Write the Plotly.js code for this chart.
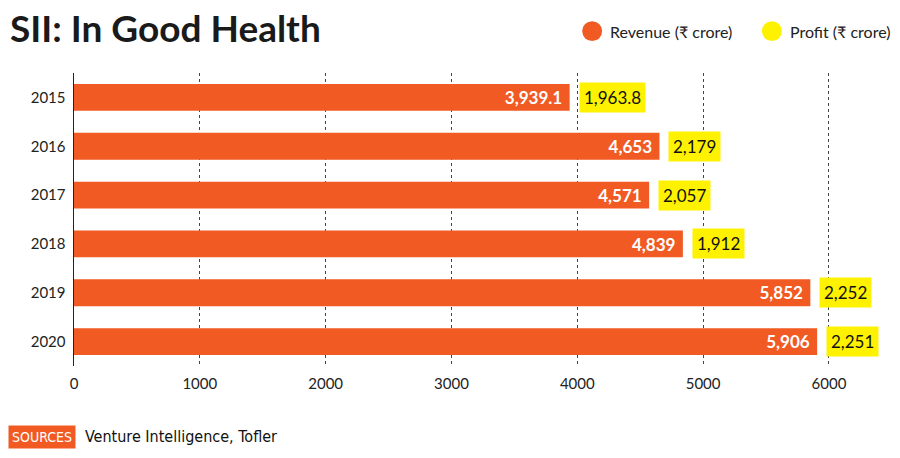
<!DOCTYPE html>
<html>
<head>
<meta charset="utf-8">
<script src="https://cdn.plot.ly/plotly-3.0.1.min.js"></script>
<style>html,body{margin:0;padding:0;background:#fff;}#chart{width:900px;height:458px;}</style>
</head>
<body>
<div id="chart"></div>
<script>
const years = ['2015', '2016', '2017', '2018', '2019', '2020'];
const revenue = [3939.1, 4653, 4571, 4839, 5852, 5906];
const profit = [1963.8, 2179, 2057, 1912, 2252, 2251];
const revenueLabels = ['3,939.1', '4,653', '4,571', '4,839', '5,852', '5,906'];
const profitLabels = ['1,963.8', '2,179', '2,057', '1,912', '2,252', '2,251'];
const xTicks = [0, 1000, 2000, 3000, 4000, 5000, 6000];

const ORANGE = '#F15A22';
const YELLOW = '#FFF200';
const FONT = 'Lato, "Open Sans", sans-serif';

const trace = {
  type: 'bar',
  orientation: 'h',
  y: years,
  x: revenue,
  text: revenueLabels,
  texttemplate: '<b>%{text}</b>\u00a0',
  textposition: 'inside',
  insidetextanchor: 'end',
  textangle: 0,
  textfont: {family: FONT, size: 18, color: '#fff'},
  marker: {color: ORANGE},
  width: 0.55,
  hoverinfo: 'skip',
  showlegend: false
};

const profitAnnotations = years.map((y, i) => ({
  x: revenue[i], y: i, xref: 'x', yref: 'y',
  text: profitLabels[i],
  showarrow: false, xanchor: 'left', yanchor: 'middle',
  xshift: 9,
  bgcolor: YELLOW, borderpad: 4,
  font: {family: FONT, size: 17, color: '#111'}
}));

const layout = {
  width: 900, height: 458,
  margin: {l: 74, r: 27, t: 73, b: 92},
  paper_bgcolor: '#fff', plot_bgcolor: '#fff',
  font: {family: FONT, color: '#222'},
  xaxis: {
    range: [0, 6350],
    tickvals: xTicks,
    ticktext: xTicks.map(String),
    showgrid: true, gridcolor: '#444', griddash: 'dot', gridwidth: 1,
    zeroline: false, showline: false,
    ticks: 'outside', ticklen: 4, tickcolor: 'rgba(0,0,0,0)',
    tickfont: {family: FONT, size: 15, color: '#222'},
    fixedrange: true
  },
  yaxis: {
    type: 'category',
    categoryorder: 'array',
    categoryarray: years,
    range: [5.5, -0.5],
    autorange: false,
    showline: true, linecolor: '#222', linewidth: 1.5,
    showgrid: false, zeroline: false,
    ticks: 'outside', ticklen: 4, tickcolor: 'rgba(0,0,0,0)',
    tickfont: {family: FONT, size: 15, color: '#222'},
    fixedrange: true
  },
  annotations: [
    ...profitAnnotations,
    {xref: 'paper', yref: 'paper', x: -0.083, y: 1.154, xanchor: 'left', yanchor: 'middle',
     text: '<b>SII: In Good Health</b>', showarrow: false,
     font: {family: 'Lato, sans-serif', size: 37, color: '#1a1a1a'}},
    {xref: 'paper', yref: 'paper', x: 0.668, y: 1.143, xanchor: 'left', yanchor: 'middle',
     text: 'Revenue (₹ crore)', showarrow: false,
     font: {family: FONT, size: 16, color: '#222'}},
    {xref: 'paper', yref: 'paper', x: 0.894, y: 1.143, xanchor: 'left', yanchor: 'middle',
     text: 'Profit (₹ crore)', showarrow: false,
     font: {family: FONT, size: 16, color: '#222'}},
    {xref: 'paper', yref: 'paper', x: -0.083, y: -0.242, xanchor: 'left', yanchor: 'middle',
     text: 'SOURCES', showarrow: false, bgcolor: ORANGE, borderpad: 3,
     font: {family: '"DejaVu Sans Condensed", sans-serif', size: 14, color: '#fff'}},
    {xref: 'paper', yref: 'paper', x: 0.011, y: -0.242, xanchor: 'left', yanchor: 'middle',
     text: 'Venture Intelligence, Tofler', showarrow: false,
     font: {family: '"DejaVu Sans Condensed", sans-serif', size: 16, color: '#111'}}
  ],
  shapes: [
    {type: 'circle', xref: 'paper', yref: 'paper', x0: 0.636, x1: 0.661, y0: 1.109, y1: 1.177,
     fillcolor: ORANGE, line: {width: 0}},
    {type: 'circle', xref: 'paper', yref: 'paper', x0: 0.861, x1: 0.886, y0: 1.109, y1: 1.177,
     fillcolor: YELLOW, line: {width: 0}}
  ]
};

Plotly.newPlot('chart', [trace], layout, {displayModeBar: false, staticPlot: true});
</script>
</body>
</html>
